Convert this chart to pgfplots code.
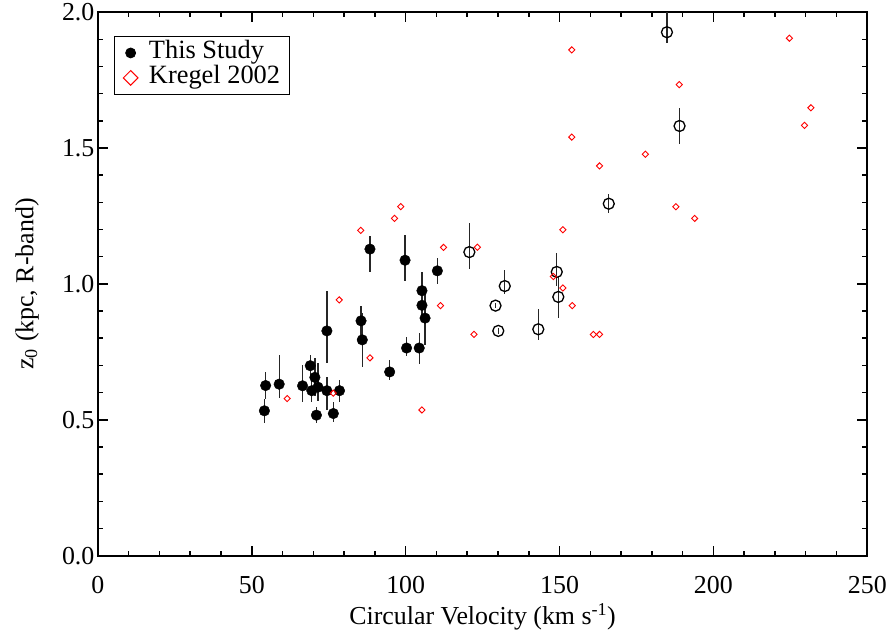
\documentclass[border=0pt]{standalone}
\usepackage{fontspec}
\setmainfont{Liberation Serif}
\usepackage{pgfplots}
\usepackage{pgfplotstable}
\pgfplotsset{compat=1.18}

\pgfplotstableread{
x y ep em
54.1 0.533 0.045 0.045
54.5 0.626 0.050 0.050
58.9 0.631 0.108 0.051
66.5 0.625 0.075 0.058
69.0 0.699 0.040 0.040
70.5 0.656 0.070 0.068
69.5 0.607 0.040 0.040
71.5 0.620 0.090 0.050
71.0 0.517 0.030 0.030
74.4 0.827 0.146 0.117
74.4 0.607 0.050 0.070
76.5 0.523 0.044 0.030
78.5 0.607 0.040 0.040
88.4 1.128 0.050 0.085
85.5 0.864 0.056 0.056
85.9 0.794 0.100 0.100
94.8 0.676 0.045 0.030
99.8 1.087 0.093 0.076
100.3 0.764 0.040 0.030
104.4 0.764 0.055 0.060
105.3 0.975 0.068 0.068
105.3 0.921 0.050 0.050
106.3 0.874 0.100 0.100
110.3 1.048 0.046 0.050
}\filled

\pgfplotstableread{
x y ep em
120.7 1.117 0.107 0.063
132.2 0.992 0.060 0.030
129.2 0.920 0.010 0.010
130.1 0.827 0.010 0.010
143.1 0.833 0.075 0.041
149.1 1.044 0.071 0.051
149.6 0.952 0.075 0.078
166.0 1.295 0.035 0.036
184.9 1.926 0.074 0.041
189.0 1.581 0.065 0.065
}\open

\pgfplotstableread{
x y
85.4 1.197
96.4 1.241
98.4 1.284
112.3 1.134
123.3 1.135
78.4 0.941
111.3 0.920
88.4 0.728
61.5 0.578
76.5 0.598
105.3 0.536
122.2 0.814
151.1 1.199
148.0 1.027
151.1 0.985
154.1 0.920
161.0 0.814
163.0 0.814
154.0 1.861
188.9 1.733
224.7 1.904
231.7 1.648
229.6 1.583
154.0 1.540
177.9 1.477
163.0 1.434
187.8 1.284
193.9 1.241
}\kregel

\begin{document}
\begin{tikzpicture}
\begin{axis}[
  scale only axis,
  width=770bp, height=544bp,
  xmin=0, xmax=250, ymin=0, ymax=2,
  xtick={0,50,...,250}, ytick={0,0.5,...,2},
  minor x tick num=4, minor y tick num=4,
  tick align=inside,
  major tick length=10bp, minor tick length=5bp,
  every tick/.style={black, line width=1.5bp},
  axis line style={line width=1.8bp},
  /pgf/number format/assume math mode=true,
  yticklabel style={/pgf/number format/fixed, /pgf/number format/fixed zerofill, /pgf/number format/precision=1, anchor=east},
  xticklabel style={anchor=base, yshift=-37.7bp},
  ticklabel style={font=\fontsize{26}{30}\selectfont},
  label style={font=\fontsize{26}{30}\selectfont},
  xlabel={Circular Velocity (km s\textsuperscript{-1})},
  ylabel={z\textsubscript{0} (kpc, R-band)},
  xlabel style={at={(axis description cs:0.5,-0.1268)}, anchor=base},
  ylabel style={at={(axis description cs:-0.0840,0.5)}, anchor=base, rotate=0},
  legend style={at={(axis description cs:0.0208,0.9559)}, anchor=north west,
    font=\fontsize{26.5}{30}\selectfont, draw=black, line width=0.8bp,
    inner xsep=9bp, inner ysep=4bp,
    nodes={inner sep=0bp, text height=18.5bp, text depth=6.5bp},
    /tikz/every odd column/.append style={column sep=11bp},
    cells={anchor=west}},
  legend image code/.code={\draw[#1] plot coordinates {(0.35cm,0cm)};},
  clip=false,
]
\addlegendimage{only marks, mark=*, black, mark size=5bp}
\addlegendentry{This Study}
\addlegendimage{only marks, mark=square, red, mark size=5.2bp, mark options={rotate=45, line width=1bp}}
\addlegendentry{Kregel 2002}

\addplot[forget plot, only marks, mark=*, black, mark size=5.3bp,
  error bars/.cd, y dir=both, y explicit, error mark=none,
  error bar style={line width=1.3bp, black!85}]
  table[x=x, y=y, y error plus=ep, y error minus=em] {\filled};

\addplot[forget plot, only marks, mark=o, black, mark size=5.5bp, mark options={line width=1.3bp},
  error bars/.cd, y dir=both, y explicit, error mark=none,
  error bar style={line width=1.3bp, black!85}]
  table[x=x, y=y, y error plus=ep, y error minus=em] {\open};

\addplot[forget plot, only marks, mark=square, red, mark size=2.2bp, mark options={rotate=45, line width=0.9bp}]
  table[x=x, y=y] {\kregel};
\end{axis}
\path (-98bp,-76bp) rectangle (792bp,556bp);
\end{tikzpicture}
\end{document}
